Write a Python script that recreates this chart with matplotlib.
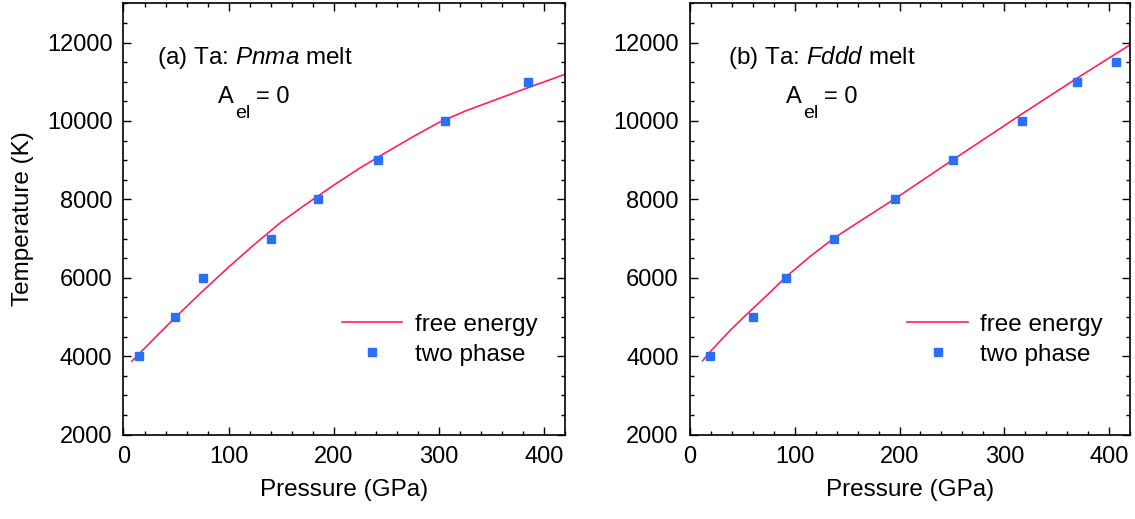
import numpy as np
import matplotlib
matplotlib.use('Agg')
import matplotlib.pyplot as plt
from matplotlib.ticker import MultipleLocator

plt.rcParams['font.family'] = ['Liberation Sans', 'DejaVu Sans']
plt.rcParams['mathtext.fontset'] = 'custom'
plt.rcParams['mathtext.rm'] = 'Liberation Sans'
plt.rcParams['mathtext.it'] = 'Liberation Sans:italic'

# (a) Pnma melt: free energy curve and two-phase points
p_fe_a = [8, 30, 49, 75, 100, 125, 150, 175, 200, 225, 250, 275, 300, 325, 350, 385, 420]
t_fe_a = [3870, 4470, 4980, 5650, 6270, 6860, 7420, 7900, 8360, 8800, 9200, 9590, 9960,
          10250, 10500, 10850, 11190]
p_tp_a = [14.5, 48.7, 75.2, 140.5, 185.3, 242.3, 305.4, 384.5]
t_tp_a = [4000, 5000, 6000, 7000, 8000, 9000, 10000, 11000]

# (b) Fddd melt
p_fe_b = [12, 20, 30, 40, 50, 60, 75, 92, 115, 138, 165, 196, 251, 317, 370, 420]
t_fe_b = [3880, 4130, 4420, 4700, 4960, 5210, 5590, 6030, 6550, 7020, 7490, 8020, 9010,
          10180, 11100, 11940]
p_tp_b = [19.1, 60.3, 91.9, 137.6, 195.8, 251.3, 316.8, 369.8, 406.2]
t_tp_b = [4000, 5000, 6000, 7000, 8000, 9000, 10000, 11000, 11500]

line_col = '#ff1f5f'
pt_col = '#2a6ff8'

fig = plt.figure(figsize=(11.35, 5.19), dpi=100)
ax_a = fig.add_axes([0.1088, 0.1628, 0.389, 0.8308])
ax_b = fig.add_axes([0.6079, 0.1628, 0.3877, 0.8308])


def setup(ax, p_fe, t_fe, p_tp, t_tp, label, xa, xA):
    ax.plot(p_fe, t_fe, '-', color=line_col, lw=1.2, label='free energy')
    ax.plot(p_tp, t_tp, 's', color=pt_col, ms=6, mec=pt_col, ls='none', label='two phase')
    ax.set_xlim(0, 420)
    ax.set_ylim(2000, 13000)
    ax.xaxis.set_major_locator(MultipleLocator(100))
    ax.xaxis.set_minor_locator(MultipleLocator(20))
    ax.yaxis.set_major_locator(MultipleLocator(2000))
    ax.yaxis.set_minor_locator(MultipleLocator(500))
    ax.tick_params(which='both', direction='in', top=True, right=True, width=1.0, labelsize=17, pad=8)
    ax.tick_params(which='major', length=5.5)
    ax.tick_params(which='minor', length=3)
    for s in ax.spines.values():
        s.set_linewidth(1.2)
    ax.set_xlabel('Pressure (GPa)', fontsize=17.5, labelpad=8)
    ax.text(xa, 0.859, label, transform=ax.transAxes, fontsize=17.5, va='baseline', ha='left')
    ax.text(xA, 0.769, 'A', transform=ax.transAxes, fontsize=17, va='baseline', ha='left')
    ax.text(xA + 0.039, 0.734, 'el', transform=ax.transAxes, fontsize=14, va='baseline', ha='left')
    ax.text(xA + 0.085, 0.769, '= 0', transform=ax.transAxes, fontsize=17, va='baseline', ha='left')
    ax.legend(loc='center left', bbox_to_anchor=(0.494, 0.22), frameon=False, fontsize=17.5,
              borderpad=0, borderaxespad=0, handlelength=2.5, handletextpad=0.5,
              labelspacing=0.33, numpoints=1)


setup(ax_a, p_fe_a, t_fe_a, p_tp_a, t_tp_a, r'(a) Ta: $\it{Pnma}$ melt', 0.075, 0.214)
setup(ax_b, p_fe_b, t_fe_b, p_tp_b, t_tp_b, r'(b) Ta: $\it{Fddd}$ melt', 0.087, 0.219)
ax_a.set_ylabel('Temperature (K)', fontsize=17.5, labelpad=9)

fig.savefig('out.png', dpi=100)
